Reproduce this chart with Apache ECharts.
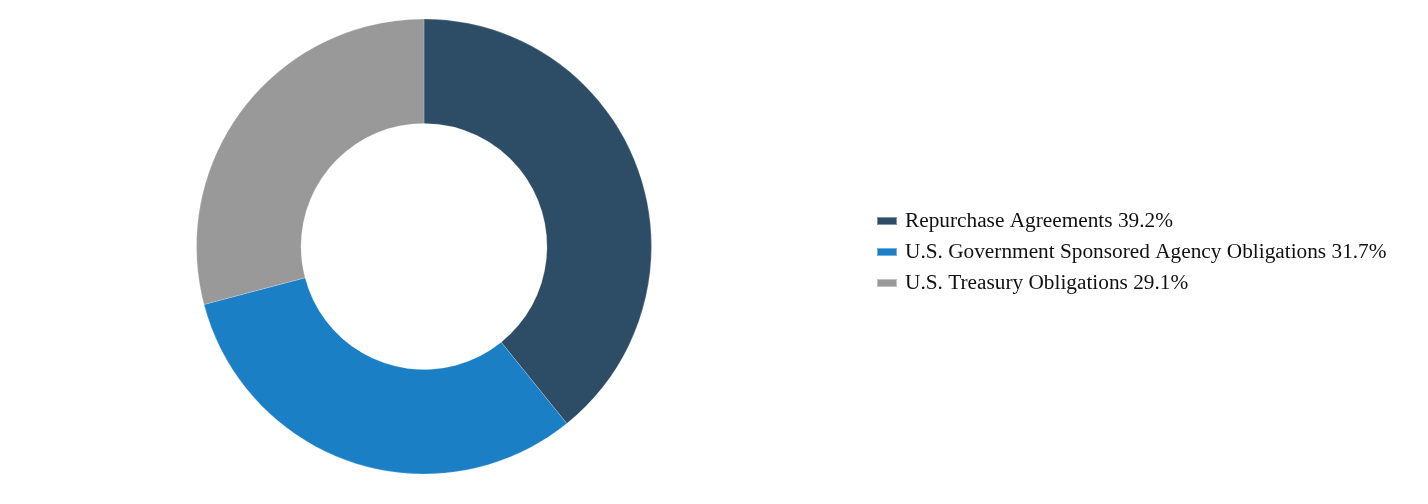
<!DOCTYPE html>
<html><head><meta charset="utf-8">
<script src="https://cdn.jsdelivr.net/npm/echarts@6/dist/echarts.min.js"></script>
<style>html,body{margin:0;padding:0;background:#fff}#c{width:1428px;height:504px}</style>
</head><body><div id="c"></div>
<script>
const categories = ["Repurchase Agreements 39.2%", "U.S. Government Sponsored Agency Obligations 31.7%", "U.S. Treasury Obligations 29.1%"];
const values = [39.2, 31.7, 29.1];
const colors = ["#2D4D66", "#1B7FC6", "#999999"];
const chart = echarts.init(document.getElementById('c'));
chart.setOption({
  animation: false,
  color: colors,
  legend: {
    orient: 'vertical', left: 871, top: 'middle',
    itemWidth: 20, itemHeight: 8, itemGap: 10,
    icon: 'rect',
    textStyle: {fontFamily: 'Liberation Serif', fontSize: 21.3, color: '#111', padding: [0, 0, 0, 3]},
    data: categories
  },
  series: [{
    type: 'pie',
    center: [424, 246.5],
    radius: [123, 227.5],
    startAngle: 90,
    clockwise: true,
    label: {show: false},
    labelLine: {show: false},
    itemStyle: {borderColor: 'rgba(255,255,255,0.4)', borderWidth: 0.5},
    emphasis: {disabled: true},
    data: categories.map((n, i) => ({name: n, value: values[i]}))
  }]
});
</script></body></html>
